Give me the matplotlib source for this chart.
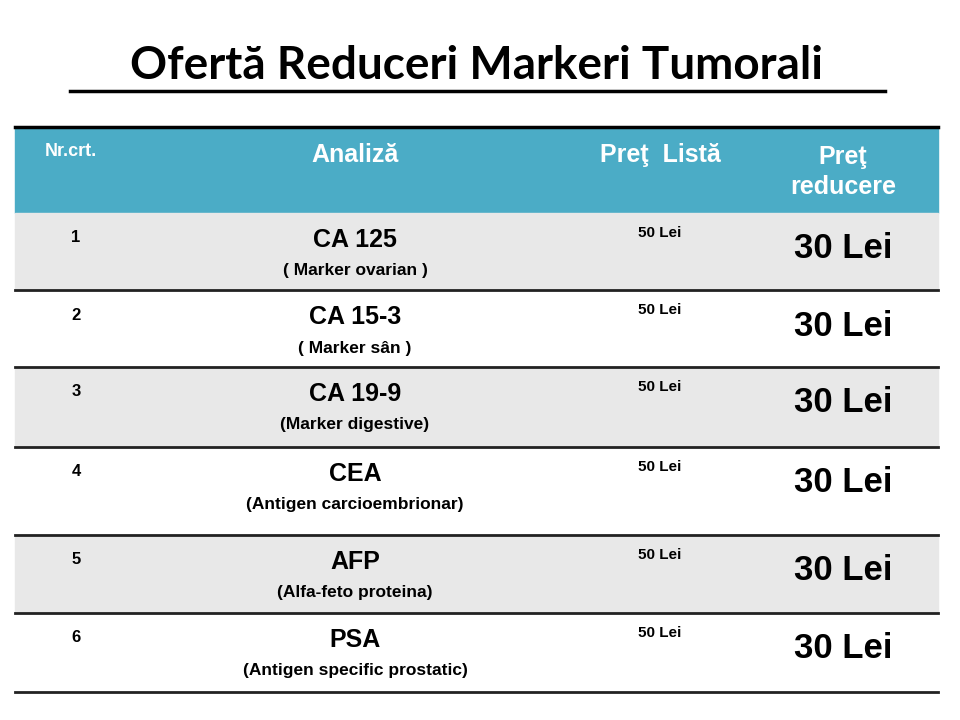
import matplotlib
matplotlib.use("Agg")
import matplotlib.pyplot as plt
from matplotlib.patches import Rectangle

# table content
title = "Ofertă Reduceri Markeri Tumorali"
headers = ["Nr.crt.", "Analiză", "Preţ  Listă", "Preţ\nreducere"]
numbers = ["1", "2", "3", "4", "5", "6"]
tests = ["CA 125", "CA 15-3", "CA 19-9", "CEA", "AFP", "PSA"]
notes = ["( Marker ovarian )", "( Marker sân )", "(Marker digestive)",
         "(Antigen carcioembrionar)", "(Alfa-feto proteina)",
         "(Antigen specific prostatic)"]
list_price = ["50 Lei"] * 6
reduced_price = ["30 Lei"] * 6

row_edges = [213, 290, 367, 447, 535, 613, 692]
left, right = 15, 938

fig = plt.figure(figsize=(9.6, 7.2), dpi=100)
ax = fig.add_axes([0, 0, 1, 1])
ax.set_xlim(0, 960)
ax.set_ylim(720, 0)
ax.axis("off")

fnt = "Liberation Sans"

# title
ax.text(477, 66, title, ha="center", va="center", fontsize=33,
        fontweight="bold", family="Lato")
ax.plot([70, 885], [91, 91], color="black", lw=2.5)

# header band
ax.add_patch(Rectangle((left, 127), right - left, row_edges[0] - 127,
                       color="#4BACC6", zorder=0))
ax.plot([left, right], [127, 127], color="black", lw=2.5)
ax.text(45, 152, headers[0], ha="left", va="center", color="white",
        fontsize=13, fontweight="bold", family=fnt)
ax.text(355, 155, headers[1], ha="center", va="center", color="white",
        fontsize=18, fontweight="bold", family=fnt)
ax.text(660, 155, headers[2], ha="center", va="center", color="white",
        fontsize=18, fontweight="bold", family=fnt)
ax.text(843, 172, headers[3], ha="center", va="center", color="white",
        fontsize=18, fontweight="bold", family=fnt, linespacing=1.3)

for i in range(len(numbers)):
    top, bot = row_edges[i], row_edges[i + 1]
    if i % 2 == 0:
        ax.add_patch(Rectangle((left, top), right - left, bot - top,
                               color="#E8E8E8", zorder=0))
    ax.plot([left, right], [bot, bot], color="#222222", lw=2)
    ax.text(76, top + 25, numbers[i], ha="center", va="center",
            fontsize=12, fontweight="bold", family=fnt)
    ax.text(355, top + 27, tests[i], ha="center", va="center",
            fontsize=18, fontweight="bold", family=fnt)
    ax.text(355, top + 58, notes[i], ha="center", va="center",
            fontsize=12.5, fontweight="bold", family=fnt)
    ax.text(660, top + 20, list_price[i], ha="center", va="center",
            fontsize=11, fontweight="bold", family=fnt)
    ax.text(843, top + 36, reduced_price[i], ha="center", va="center",
            fontsize=25, fontweight="bold", family=fnt)

fig.savefig("out.png", dpi=100, facecolor="white")
